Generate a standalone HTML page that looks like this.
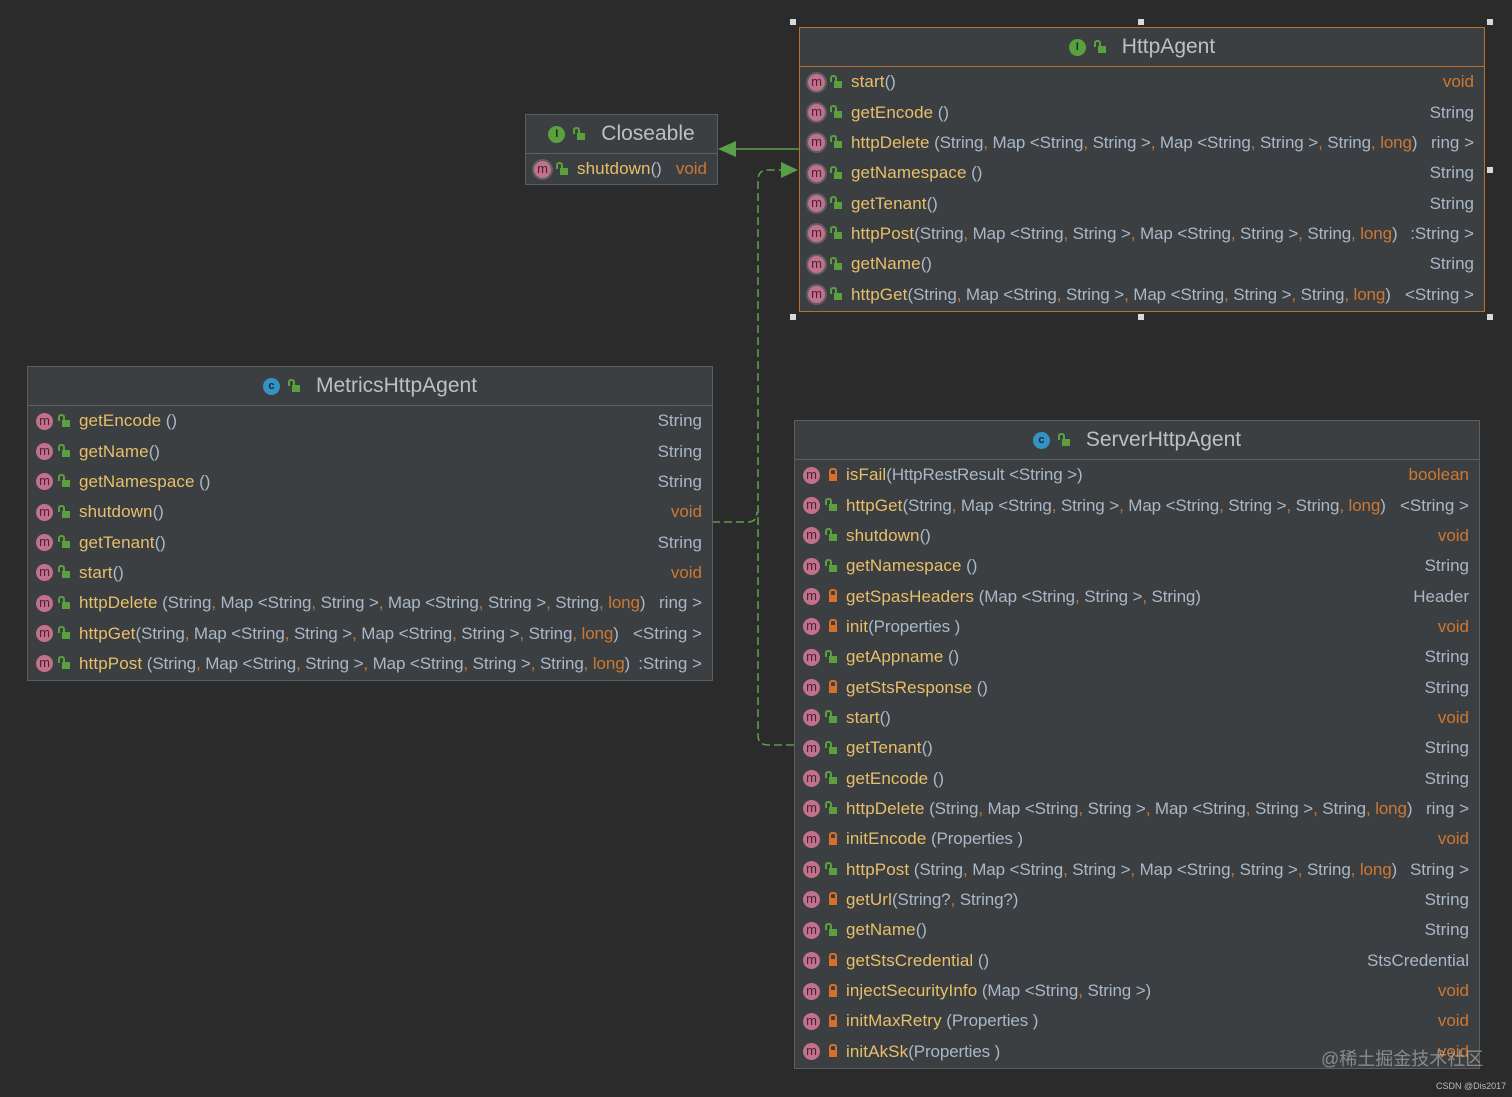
<!DOCTYPE html>
<html><head><meta charset="utf-8"><style>
body{margin:0;width:1512px;height:1097px;background:#2b2b2b;position:relative;overflow:hidden;font-family:"Liberation Sans","DejaVu Sans",sans-serif;}
.box{position:absolute;background:#3c3f41;border:1px solid #5b5e60;box-sizing:border-box;}
.sel{border:1px solid #b8702e;}
.hd{height:38px;border-bottom:1px solid #5e6163;display:flex;align-items:center;justify-content:center;color:#bcc0c4;font-size:21px;}
.sel .hd{border-bottom-color:#b8702e;}
.ci{width:17px;height:17px;border-radius:50%;display:inline-block;color:#1d2a33;font-size:11px;line-height:17px;text-align:center;margin-right:6px;font-weight:bold}
.row{height:30.35px;display:flex;align-items:center;font-size:17px;white-space:nowrap;padding-right:10px;}
.m{width:17px;height:17px;border-radius:50%;background:#c2718c;color:#4a2330;font-size:13px;line-height:15px;text-align:center;margin-left:8px;flex:none;box-sizing:border-box}
.ab{box-shadow:0 0 0 2px #5d5f61;}
.lk{width:8px;height:7px;margin:4px 9px 0 9px;flex:none;position:relative;background:#5aa03c;}
.lk:before{content:"";position:absolute;left:-4px;top:-6px;width:3px;height:5px;border:2px solid #5aa03c;border-bottom:none;border-radius:3px 3px 0 0}
.pv{background:#d66f2a;}
.pv:before{left:0px;border-color:#d66f2a;width:4px}
.l{flex:1;overflow:hidden;letter-spacing:-0.12px}
.n{color:#e8bf6a;letter-spacing:0.1px}
.p{color:#a9b7c6}
.t{color:#a9b7c6;flex:none;margin-left:4px}
.o{color:#cc7832}
.t.o{color:#cc7832}
.h{position:absolute;width:6px;height:6px;background:#d8d8d8}
</style></head><body>

<svg style="position:absolute;left:0;top:0" width="1512" height="1097">
<g fill="none" stroke="#5a9e4a" stroke-width="1.6">
<line x1="736" y1="149" x2="799" y2="149"/>
<path d="M794 745 H768 Q758 745 758 735 V180 Q758 170 768 170 H782" stroke-dasharray="8,4"/>
<path d="M712 522 H748 Q757 522 757 512" stroke-dasharray="8,4"/>
</g>
<polygon points="718,149 736,141 736,157" fill="#5a9e4a"/>
<polygon points="798,170 781,162 781,178" fill="#5a9e4a"/>
</svg>

<div class="h" style="left:790px;top:19px"></div>
<div class="h" style="left:1138px;top:19px"></div>
<div class="h" style="left:1487px;top:19px"></div>
<div class="h" style="left:1487px;top:167px"></div>
<div class="h" style="left:790px;top:314px"></div>
<div class="h" style="left:1138px;top:314px"></div>
<div class="h" style="left:1487px;top:314px"></div>

<!-- Closeable -->
<div class="box" style="left:525px;top:114px;width:193px;height:71px">
<div class="hd"><span class="ci" style="background:#5aa03c">I</span><span class="lk" style="margin:4px 16px 0 6px"></span>Closeable</div>
<div class="row"><span class="m ab">m</span><span class="lk"></span><span class="l"><span class="n">shutdown</span><span class="p">()</span></span><span class="t o">void</span></div>
</div>

<!-- HttpAgent -->
<div class="box sel" style="left:799px;top:27px;width:686px;height:285px">
<div class="hd"><span class="ci" style="background:#5aa03c">I</span><span class="lk" style="margin:4px 16px 0 6px"></span>HttpAgent</div>
<div class="row"><span class="m ab">m</span><span class="lk"></span><span class="l"><span class="n">start</span><span class="p">()</span></span><span class="t o">void</span></div>
<div class="row"><span class="m ab">m</span><span class="lk"></span><span class="l"><span class="n">getEncode</span><span class="p"> ()</span></span><span class="t">String</span></div>
<div class="row"><span class="m ab">m</span><span class="lk"></span><span class="l"><span class="n">httpDelete</span><span class="p"> (String<span class="o">,</span> Map &lt;String<span class="o">,</span> String &gt;<span class="o">,</span> Map &lt;String<span class="o">,</span> String &gt;<span class="o">,</span> String<span class="o">,</span> <span class="o">long</span>)</span></span><span class="t">ring &gt;</span></div>
<div class="row"><span class="m ab">m</span><span class="lk"></span><span class="l"><span class="n">getNamespace</span><span class="p"> ()</span></span><span class="t">String</span></div>
<div class="row"><span class="m ab">m</span><span class="lk"></span><span class="l"><span class="n">getTenant</span><span class="p">()</span></span><span class="t">String</span></div>
<div class="row"><span class="m ab">m</span><span class="lk"></span><span class="l"><span class="n">httpPost</span><span class="p">(String<span class="o">,</span> Map &lt;String<span class="o">,</span> String &gt;<span class="o">,</span> Map &lt;String<span class="o">,</span> String &gt;<span class="o">,</span> String<span class="o">,</span> <span class="o">long</span>)</span></span><span class="t">:String &gt;</span></div>
<div class="row"><span class="m ab">m</span><span class="lk"></span><span class="l"><span class="n">getName</span><span class="p">()</span></span><span class="t">String</span></div>
<div class="row"><span class="m ab">m</span><span class="lk"></span><span class="l"><span class="n">httpGet</span><span class="p">(String<span class="o">,</span> Map &lt;String<span class="o">,</span> String &gt;<span class="o">,</span> Map &lt;String<span class="o">,</span> String &gt;<span class="o">,</span> String<span class="o">,</span> <span class="o">long</span>)</span></span><span class="t">&lt;String &gt;</span></div>
</div>

<!-- MetricsHttpAgent -->
<div class="box" style="left:27px;top:366px;width:686px;height:315px">
<div class="hd"><span class="ci" style="background:#3592c4">c</span><span class="lk" style="margin:4px 16px 0 6px"></span>MetricsHttpAgent</div>
<div class="row"><span class="m">m</span><span class="lk"></span><span class="l"><span class="n">getEncode</span><span class="p"> ()</span></span><span class="t">String</span></div>
<div class="row"><span class="m">m</span><span class="lk"></span><span class="l"><span class="n">getName</span><span class="p">()</span></span><span class="t">String</span></div>
<div class="row"><span class="m">m</span><span class="lk"></span><span class="l"><span class="n">getNamespace</span><span class="p"> ()</span></span><span class="t">String</span></div>
<div class="row"><span class="m">m</span><span class="lk"></span><span class="l"><span class="n">shutdown</span><span class="p">()</span></span><span class="t o">void</span></div>
<div class="row"><span class="m">m</span><span class="lk"></span><span class="l"><span class="n">getTenant</span><span class="p">()</span></span><span class="t">String</span></div>
<div class="row"><span class="m">m</span><span class="lk"></span><span class="l"><span class="n">start</span><span class="p">()</span></span><span class="t o">void</span></div>
<div class="row"><span class="m">m</span><span class="lk"></span><span class="l"><span class="n">httpDelete</span><span class="p"> (String<span class="o">,</span> Map &lt;String<span class="o">,</span> String &gt;<span class="o">,</span> Map &lt;String<span class="o">,</span> String &gt;<span class="o">,</span> String<span class="o">,</span> <span class="o">long</span>)</span></span><span class="t">ring &gt;</span></div>
<div class="row"><span class="m">m</span><span class="lk"></span><span class="l"><span class="n">httpGet</span><span class="p">(String<span class="o">,</span> Map &lt;String<span class="o">,</span> String &gt;<span class="o">,</span> Map &lt;String<span class="o">,</span> String &gt;<span class="o">,</span> String<span class="o">,</span> <span class="o">long</span>)</span></span><span class="t">&lt;String &gt;</span></div>
<div class="row"><span class="m">m</span><span class="lk"></span><span class="l"><span class="n">httpPost</span><span class="p"> (String<span class="o">,</span> Map &lt;String<span class="o">,</span> String &gt;<span class="o">,</span> Map &lt;String<span class="o">,</span> String &gt;<span class="o">,</span> String<span class="o">,</span> <span class="o">long</span>)</span></span><span class="t">:String &gt;</span></div>
</div>

<!-- ServerHttpAgent -->
<div class="box" style="left:794px;top:420px;width:686px;height:649px">
<div class="hd"><span class="ci" style="background:#3592c4">c</span><span class="lk" style="margin:4px 16px 0 6px"></span>ServerHttpAgent</div>
<div class="row"><span class="m">m</span><span class="lk pv"></span><span class="l"><span class="n">isFail</span><span class="p">(HttpRestResult &lt;String &gt;)</span></span><span class="t o">boolean</span></div>
<div class="row"><span class="m">m</span><span class="lk"></span><span class="l"><span class="n">httpGet</span><span class="p">(String<span class="o">,</span> Map &lt;String<span class="o">,</span> String &gt;<span class="o">,</span> Map &lt;String<span class="o">,</span> String &gt;<span class="o">,</span> String<span class="o">,</span> <span class="o">long</span>)</span></span><span class="t">&lt;String &gt;</span></div>
<div class="row"><span class="m">m</span><span class="lk"></span><span class="l"><span class="n">shutdown</span><span class="p">()</span></span><span class="t o">void</span></div>
<div class="row"><span class="m">m</span><span class="lk"></span><span class="l"><span class="n">getNamespace</span><span class="p"> ()</span></span><span class="t">String</span></div>
<div class="row"><span class="m">m</span><span class="lk pv"></span><span class="l"><span class="n">getSpasHeaders</span><span class="p"> (Map &lt;String<span class="o">,</span> String &gt;<span class="o">,</span> String)</span></span><span class="t">Header</span></div>
<div class="row"><span class="m">m</span><span class="lk pv"></span><span class="l"><span class="n">init</span><span class="p">(Properties )</span></span><span class="t o">void</span></div>
<div class="row"><span class="m">m</span><span class="lk"></span><span class="l"><span class="n">getAppname</span><span class="p"> ()</span></span><span class="t">String</span></div>
<div class="row"><span class="m">m</span><span class="lk pv"></span><span class="l"><span class="n">getStsResponse</span><span class="p"> ()</span></span><span class="t">String</span></div>
<div class="row"><span class="m">m</span><span class="lk"></span><span class="l"><span class="n">start</span><span class="p">()</span></span><span class="t o">void</span></div>
<div class="row"><span class="m">m</span><span class="lk"></span><span class="l"><span class="n">getTenant</span><span class="p">()</span></span><span class="t">String</span></div>
<div class="row"><span class="m">m</span><span class="lk"></span><span class="l"><span class="n">getEncode</span><span class="p"> ()</span></span><span class="t">String</span></div>
<div class="row"><span class="m">m</span><span class="lk"></span><span class="l"><span class="n">httpDelete</span><span class="p"> (String<span class="o">,</span> Map &lt;String<span class="o">,</span> String &gt;<span class="o">,</span> Map &lt;String<span class="o">,</span> String &gt;<span class="o">,</span> String<span class="o">,</span> <span class="o">long</span>)</span></span><span class="t">ring &gt;</span></div>
<div class="row"><span class="m">m</span><span class="lk pv"></span><span class="l"><span class="n">initEncode</span><span class="p"> (Properties )</span></span><span class="t o">void</span></div>
<div class="row"><span class="m">m</span><span class="lk"></span><span class="l"><span class="n">httpPost</span><span class="p"> (String<span class="o">,</span> Map &lt;String<span class="o">,</span> String &gt;<span class="o">,</span> Map &lt;String<span class="o">,</span> String &gt;<span class="o">,</span> String<span class="o">,</span> <span class="o">long</span>)</span></span><span class="t">String &gt;</span></div>
<div class="row"><span class="m">m</span><span class="lk pv"></span><span class="l"><span class="n">getUrl</span><span class="p">(String?<span class="o">,</span> String?)</span></span><span class="t">String</span></div>
<div class="row"><span class="m">m</span><span class="lk"></span><span class="l"><span class="n">getName</span><span class="p">()</span></span><span class="t">String</span></div>
<div class="row"><span class="m">m</span><span class="lk pv"></span><span class="l"><span class="n">getStsCredential</span><span class="p"> ()</span></span><span class="t">StsCredential</span></div>
<div class="row"><span class="m">m</span><span class="lk pv"></span><span class="l"><span class="n">injectSecurityInfo</span><span class="p"> (Map &lt;String<span class="o">,</span> String &gt;)</span></span><span class="t o">void</span></div>
<div class="row"><span class="m">m</span><span class="lk pv"></span><span class="l"><span class="n">initMaxRetry</span><span class="p"> (Properties )</span></span><span class="t o">void</span></div>
<div class="row"><span class="m">m</span><span class="lk pv"></span><span class="l"><span class="n">initAkSk</span><span class="p">(Properties )</span></span><span class="t o">void</span></div>
</div>

<div style="position:absolute;left:1321px;top:1045px;font-size:18px;color:rgba(200,200,200,0.55);font-family:'Liberation Sans','Noto Sans CJK SC',sans-serif">@稀土掘金技术社区</div>
<div style="position:absolute;left:1436px;top:1081px;font-size:9px;color:#bbb">CSDN @Dis2017</div>
</body></html>
